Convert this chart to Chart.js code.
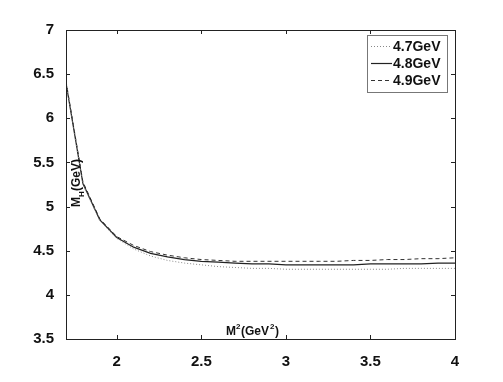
<!DOCTYPE html>
<html>
<head>
<meta charset="utf-8">
<script src="https://cdn.jsdelivr.net/npm/chart.js@4/dist/chart.umd.min.js"></script>
<style>
    html, body { margin: 0; padding: 0; background: #fff; }
    #wrap { width: 503px; height: 382px; }
</style>
</head>
<body>
<div id="wrap"><canvas id="mhChart"></canvas></div>
<script>
const m2 = [1.7, 1.8, 1.9, 2.0, 2.1, 2.2, 2.3, 2.4, 2.5, 2.6, 2.7, 2.8, 2.9, 3.0, 3.1, 3.2, 3.3, 3.4, 3.5, 3.6, 3.7, 3.8, 3.9, 4.0];
const mh47 = [6.40, 5.25, 4.84, 4.64, 4.52, 4.44, 4.39, 4.36, 4.34, 4.32, 4.31, 4.30, 4.30, 4.29, 4.29, 4.29, 4.29, 4.29, 4.29, 4.29, 4.30, 4.30, 4.30, 4.30];
const mh48 = [6.40, 5.26, 4.85, 4.65, 4.54, 4.47, 4.43, 4.40, 4.38, 4.37, 4.36, 4.35, 4.35, 4.34, 4.34, 4.34, 4.34, 4.34, 4.35, 4.35, 4.35, 4.35, 4.36, 4.36];
const mh49 = [6.42, 5.28, 4.86, 4.66, 4.56, 4.49, 4.45, 4.42, 4.40, 4.39, 4.38, 4.38, 4.38, 4.38, 4.38, 4.38, 4.38, 4.39, 4.39, 4.40, 4.40, 4.41, 4.41, 4.42];
const xTicks = [2, 2.5, 3, 3.5, 4];
const yTicks = [3.5, 4, 4.5, 5, 5.5, 6, 6.5, 7];
const seriesNames = ['4.7GeV', '4.8GeV', '4.9GeV'];

const toPoints = ys => m2.map((x, i) => ({ x: x, y: ys[i] }));

const tickFont = { family: 'Liberation Sans, Arial, sans-serif', size: 15, weight: 'bold' };

// box, inward ticks, axis titles and legend, drawn like the matlab figure
const framePlugin = {
    id: 'frame',
    afterDatasetsDraw(chart) {
        const { ctx, chartArea: a, scales } = chart;
        ctx.save();
        ctx.strokeStyle = '#222';
        ctx.lineWidth = 1;
        ctx.strokeRect(a.left + 0.5, a.top + 0.5, a.right - a.left, a.bottom - a.top);
        ctx.beginPath();
        xTicks.forEach(v => {
            const px = Math.round(scales.x.getPixelForValue(v)) + 0.5;
            ctx.moveTo(px, a.bottom); ctx.lineTo(px, a.bottom - 4);
            ctx.moveTo(px, a.top); ctx.lineTo(px, a.top + 4);
        });
        yTicks.forEach(v => {
            const py = Math.round(scales.y.getPixelForValue(v)) + 0.5;
            ctx.moveTo(a.left, py); ctx.lineTo(a.left + 4, py);
            ctx.moveTo(a.right, py); ctx.lineTo(a.right - 4, py);
        });
        ctx.stroke();

        // axis titles sit inside the plot area
        ctx.fillStyle = '#111';
        ctx.font = 'bold 12px Liberation Sans, Arial, sans-serif';
        ctx.textBaseline = 'alphabetic';
        ctx.fillText('M', 226, 335);
        ctx.font = 'bold 8px Liberation Sans, Arial, sans-serif';
        ctx.fillText('2', 236, 329);
        ctx.font = 'bold 12px Liberation Sans, Arial, sans-serif';
        ctx.fillText('(GeV', 241, 335);
        ctx.font = 'bold 8px Liberation Sans, Arial, sans-serif';
        ctx.fillText('2', 270, 329);
        ctx.font = 'bold 12px Liberation Sans, Arial, sans-serif';
        ctx.fillText(')', 275, 335);

        ctx.save();
        ctx.translate(80, 207);
        ctx.rotate(-Math.PI / 2);
        ctx.font = 'bold 12px Liberation Sans, Arial, sans-serif';
        ctx.fillText('M', 0, 0);
        ctx.font = 'bold 8px Liberation Sans, Arial, sans-serif';
        ctx.fillText('H', 10, 4);
        ctx.font = 'bold 12px Liberation Sans, Arial, sans-serif';
        ctx.fillText('(GeV)', 16, 0);
        ctx.restore();

        // legend box
        const lx = 367, ly = 35, lw = 80, lh = 57;
        ctx.fillStyle = '#fff';
        ctx.fillRect(lx, ly, lw, lh);
        ctx.strokeStyle = '#777';
        ctx.strokeRect(lx + 0.5, ly + 0.5, lw, lh);
        chart.data.datasets.forEach((ds, i) => {
            const yy = ly + 11 + i * 17;
            ctx.beginPath();
            ctx.setLineDash(ds.borderDash || []);
            ctx.strokeStyle = ds.borderColor;
            ctx.lineWidth = ds.borderWidth;
            ctx.moveTo(lx + 4, yy + 0.5);
            ctx.lineTo(lx + 25, yy + 0.5);
            ctx.stroke();
            ctx.setLineDash([]);
            ctx.fillStyle = '#111';
            ctx.font = 'bold 14px Liberation Sans, Arial, sans-serif';
            ctx.textBaseline = 'middle';
            ctx.fillText(seriesNames[i], lx + 26, yy + 1);
        });
        ctx.restore();
    }
};

const ctx = document.getElementById('mhChart').getContext('2d');
const mhChart = new Chart(ctx, {
    type: 'line',
    data: {
        datasets: [
            { label: seriesNames[0], data: toPoints(mh47), borderColor: '#888', borderWidth: 1, borderDash: [1, 2] },
            { label: seriesNames[1], data: toPoints(mh48), borderColor: '#222', borderWidth: 1.2 },
            { label: seriesNames[2], data: toPoints(mh49), borderColor: '#333', borderWidth: 1, borderDash: [4, 3] }
        ]
    },
    options: {
        responsive: true,
        maintainAspectRatio: false,
        animation: false,
        layout: { padding: { top: 30, right: 48, left: 0, bottom: 0 } },
        elements: { point: { radius: 0 }, line: { tension: 0 } },
        plugins: { legend: { display: false }, tooltip: { enabled: false } },
        scales: {
            x: {
                type: 'linear',
                min: 1.7,
                max: 4,
                afterBuildTicks: s => { s.ticks = xTicks.map(v => ({ value: v })); },
                afterFit: s => { s.height = 43; },
                grid: { display: false },
                border: { display: false },
                ticks: { color: '#111', font: tickFont, padding: 6, maxRotation: 0, callback: v => String(v) }
            },
            y: {
                type: 'linear',
                min: 3.5,
                max: 7,
                afterBuildTicks: s => { s.ticks = yTicks.map(v => ({ value: v })); },
                afterFit: s => { s.width = 66; },
                grid: { display: false },
                border: { display: false },
                ticks: { color: '#111', font: tickFont, padding: 4, callback: v => String(v) }
            }
        }
    },
    plugins: [framePlugin]
});
</script>
</body>
</html>
